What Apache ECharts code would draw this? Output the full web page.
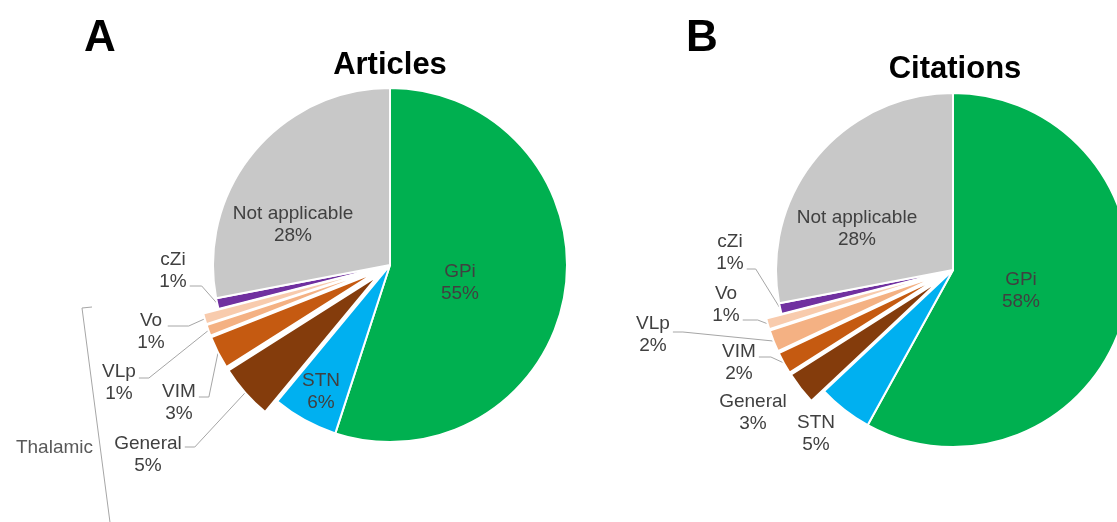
<!DOCTYPE html>
<html>
<head>
<meta charset="utf-8">
<script src="https://cdn.jsdelivr.net/npm/echarts@6/dist/echarts.min.js"></script>
<style>
  html, body { margin: 0; padding: 0; background: #ffffff; }
  #chart { width: 1117px; height: 522px; }
</style>
</head>
<body>
<div id="chart"></div>
<script>
// Stimulation targets, in clockwise order from 12 o'clock
const regions = ['GPi', 'STN', 'General', 'VIM', 'VLp', 'Vo', 'cZi', 'Not applicable'];
// Share of articles / citations per target (%)
const articlesPct = [55, 6, 5, 3, 1, 1, 1, 28];
const citationsPct = [58, 5, 3, 2, 2, 1, 1, 28];
// Thalamic targets pulled out of the pie
const thalamic = ['General', 'VIM', 'VLp', 'Vo'];
const panelLetters = ['A', 'B'];
const pieTitles = ['Articles', 'Citations'];
const groupLabel = 'Thalamic';

const sliceColors = {
  'GPi': '#00b050', 'STN': '#00b0f0', 'General': '#843c0c', 'VIM': '#c55a11',
  'VLp': '#f4b183', 'Vo': '#f8cbad', 'cZi': '#7030a0', 'Not applicable': '#c8c8c8'
};

const FONT = '"Liberation Sans", Arial, sans-serif';
const RADIUS = 177;
const OFFSET = 16;
const centers = [[390, 265], [953, 270]];
const CLEAR = 'rgba(0,0,0,0)';

// Label placement: [centre x, centre y, leader-line y shift (null = no line), elbow length]
const labelPlacement = [
  {
    'GPi': [460, 283, null], 'STN': [321, 392, null], 'General': [148, 455, -8, 10],
    'VIM': [179, 403, -6, 10], 'VLp': [119, 383, -5, 10], 'Vo': [151, 332, -6, 21],
    'cZi': [173, 271, 15, 12], 'Not applicable': [293, 225, null]
  },
  {
    'GPi': [1021, 291, null], 'STN': [816, 434, null], 'General': [753, 413, null],
    'VIM': [739, 363, -6, 12], 'VLp': [653, 335, -3, 10], 'Vo': [726, 305, 15, 15],
    'cZi': [730, 253, 16, 9], 'Not applicable': [857, 229, null]
  }
];

// Base layer: slices in place plus every label; pulled-out slices are left blank here.
function baseData(values, placement) {
  return regions.map((name, i) => {
    const pulled = thalamic.includes(name);
    return {
      name: name,
      value: values[i],
      itemStyle: pulled
        ? { color: CLEAR, borderWidth: 0 }
        : { color: sliceColors[name], borderColor: '#ffffff', borderWidth: 2 },
      labelLine: { show: placement[name][2] != null }
    };
  });
}

// Top layer: only the thalamic slices, drawn pulled out from the centre.
function pulledData(values) {
  return regions.map((name, i) => {
    const pulled = thalamic.includes(name);
    return {
      name: name,
      value: values[i],
      selected: pulled,
      itemStyle: pulled
        ? { color: sliceColors[name], borderColor: '#ffffff', borderWidth: 2 }
        : { color: CLEAR, borderWidth: 0 }
    };
  });
}

function makeLabelLayout(placement, center) {
  return function (p) {
    const name = regions[p.dataIndex];
    const s = placement[name];
    const out = { x: s[0], y: s[1], align: 'center', verticalAlign: 'middle' };
    if (s[2] != null && p.labelLinePoints) {
      const p0 = p.labelLinePoints[0];
      let ax = p0[0], ay = p0[1];
      if (thalamic.includes(name)) {
        // anchor on the outer edge of the pulled-out slice
        const vx = p0[0] - center[0], vy = p0[1] - center[1];
        const len = Math.hypot(vx, vy);
        ax += vx / len * OFFSET;
        ay += vy / len * OFFSET;
      }
      const startX = s[0] + p.labelRect.width / 2 + 3;
      const yLine = s[1] + s[2];
      out.labelLinePoints = [[ax, ay], [startX + s[3], yLine], [startX, yLine]];
    }
    return out;
  };
}

function commonPie(k) {
  return {
    type: 'pie',
    center: centers[k],
    radius: RADIUS,
    startAngle: 90,
    clockwise: true,
    avoidLabelOverlap: false,
    silent: true,
    animation: false,
    emphasis: { disabled: true }
  };
}

function baseSeries(values, k) {
  return Object.assign(commonPie(k), {
    selectedMode: false,
    label: {
      show: true,
      position: 'outside',
      formatter: p => p.name + '\n' + p.value + '%',
      color: '#404040',
      fontFamily: FONT,
      fontSize: 19,
      lineHeight: 22,
      align: 'center'
    },
    labelLine: { show: true, length: 10, length2: 10, lineStyle: { color: '#a6a6a6', width: 1 } },
    labelLayout: makeLabelLayout(labelPlacement[k], centers[k]),
    data: baseData(values, labelPlacement[k])
  });
}

function pulledSeries(values, k) {
  return Object.assign(commonPie(k), {
    selectedMode: 'multiple',
    selectedOffset: OFFSET,
    select: { itemStyle: { borderColor: '#ffffff', borderWidth: 2 } },
    label: { show: false },
    labelLine: { show: false },
    data: pulledData(values)
  });
}

function headText(text, x, y, size) {
  return {
    type: 'text', x: x, y: y, silent: true,
    style: {
      text: text, font: 'bold ' + size + 'px ' + FONT, fill: '#000000',
      align: 'center', verticalAlign: 'middle', textAlign: 'center', textVerticalAlign: 'middle'
    }
  };
}

const chart = echarts.init(document.getElementById('chart'), null, { renderer: 'canvas' });
chart.setOption({
  backgroundColor: '#ffffff',
  animation: false,
  series: [
    baseSeries(articlesPct, 0), pulledSeries(articlesPct, 0),
    baseSeries(citationsPct, 1), pulledSeries(citationsPct, 1)
  ],
  graphic: [
    headText(panelLetters[0], 100, 39, 44),
    headText(panelLetters[1], 702, 39, 44),
    headText(pieTitles[0], 390, 65, 31),
    headText(pieTitles[1], 955, 69, 31),
    {
      type: 'polyline', silent: true,
      shape: { points: [[92, 307], [82, 308], [111, 530]] },
      style: { stroke: '#a6a6a6', lineWidth: 1, fill: null }
    },
    {
      type: 'text', x: 93, y: 448, silent: true,
      style: {
        text: groupLabel, font: '19px ' + FONT, fill: '#595959',
        align: 'right', verticalAlign: 'middle', textAlign: 'right', textVerticalAlign: 'middle'
      }
    }
  ]
});
</script>
</body>
</html>
